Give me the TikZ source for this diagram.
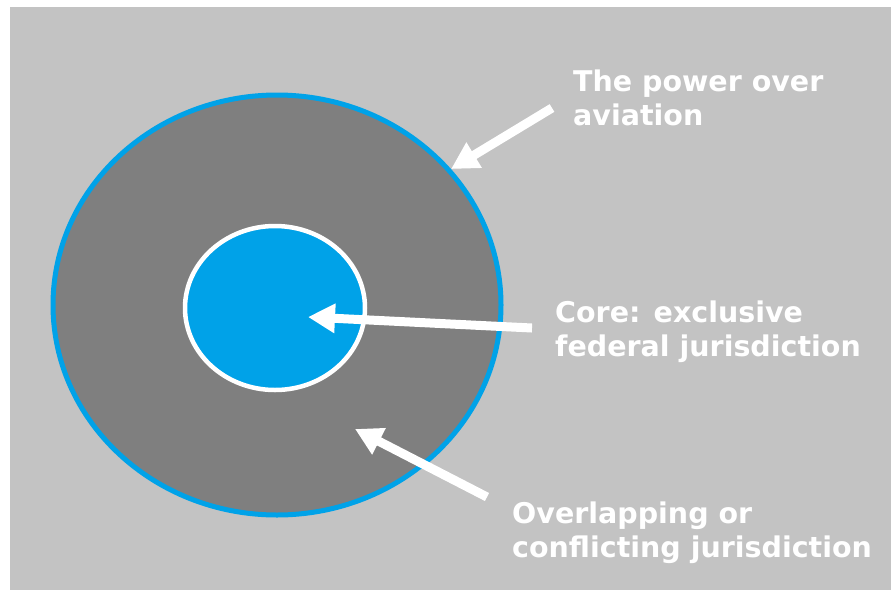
\documentclass[tikz,border=0pt]{standalone}
\usepackage{fontspec}
\setmainfont{DejaVu Sans}
\usetikzlibrary{arrows.meta,shapes.geometric}
\definecolor{panel}{HTML}{C3C3C3}
\definecolor{ring}{HTML}{7F7F7F}
\definecolor{skyblue}{HTML}{00A2E8}
\tikzset{
  caption/.style = { text=white, font=\bfseries\fontsize{28.5}{33.5}\selectfont,
    align=left, inner sep=0pt, anchor=base west },
  pointer/.style = { draw=white, line width=9pt,
    -{Triangle[length=27pt,width=28pt]} }
}

\begin{document}
\begin{tikzpicture}[x=1pt,y=-1pt]
    \useasboundingbox (0,0) rectangle (891,590);
    \fill[panel] (10,7) rectangle (891,590);

    % outer field and core
    \node[ellipse, draw=skyblue, line width=5pt, fill=ring,
      minimum width=448pt, minimum height=420pt, inner sep=0pt] (outer) at (277,305) {};
    \node[ellipse, draw=white, line width=4.5pt, fill=skyblue,
      minimum width=180pt, minimum height=164pt, inner sep=0pt] (core) at (275,308) {};

    % base west sits on the last line
    \node[caption] (power) at (573,125) {The power over\\aviation};
    \node[caption] (excl) at (555,356) {Core: exclusive\\federal jurisdiction};
    \node[caption] (overlap) at (512,557) {Overlapping or\\conflicting jurisdiction};

    \coordinate (powtail) at (552,108);
    \coordinate (excltail) at (532,328);
    \coordinate (excltip) at (308,317);
    \coordinate (overtail) at (487,497);
    \coordinate (overtip) at (355,429);

    \draw[pointer] (powtail) -- (outer.38);
    \draw[pointer] (excltail) -- (excltip);
    \draw[pointer] (overtail) -- (overtip);
\end{tikzpicture}
\end{document}
